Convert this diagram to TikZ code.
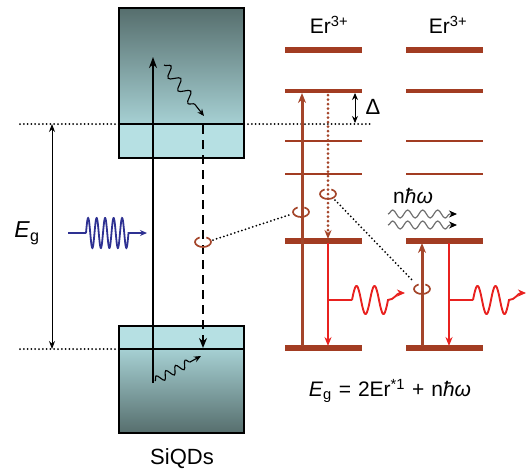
\documentclass[tikz,border=0pt]{standalone}
\usepackage{fontspec}
\setmainfont{Liberation Sans}
\usetikzlibrary{arrows.meta,decorations.pathmorphing,calc}
\definecolor{erbrown}{HTML}{A23C22}
\definecolor{erarrow}{HTML}{A4452A}
\definecolor{erred}{HTML}{E8211F}
\definecolor{boxdark}{HTML}{566E6D}
\definecolor{boxmid}{HTML}{A6D0D3}
\definecolor{boxlight}{HTML}{B6E0E3}
\definecolor{wblue}{HTML}{2E3192}
\definecolor{wgray}{HTML}{707070}
\begin{document}
\begin{tikzpicture}[x=1pt,y=-1pt,
  erlevel/.style={erbrown, line width=#1},
  smalltip/.style={-{Stealth[length=7pt,width=6pt]}},
  dotline/.style={line width=2pt, dash pattern=on 0pt off 3.8pt, line cap=round},
  loopmark/.style={erarrow, line width=1.7pt},
  lbl/.style={inner sep=0pt, font=\fontsize{21}{24}\selectfont}
]
\useasboundingbox (0,0) rectangle (528,472);
% ---- coordinates
\coordinate (dl1) at (20,124);
\coordinate (dr1) at (372,124);
\coordinate (dl2) at (20,349);
\coordinate (dr2) at (119,349);
% dotted reference lines
\draw[dotline] (dl1) -- (dr1);
\draw[dotline] (dl2) -- (dr2);
% ---- top box
\shade[top color=boxdark, bottom color=boxmid] (119,8) rectangle (244,124);
\fill[boxlight] (119,124) rectangle (244,158);
\draw[line width=2.2pt] (119,8) rectangle (244,158);
\draw[line width=2.2pt] (119,124) -- (244,124);
% ---- bottom box
\fill[boxlight] (119,326) rectangle (244,349);
\shade[top color=boxmid, bottom color=boxdark] (119,349) rectangle (244,433);
\draw[line width=2.2pt] (119,326) rectangle (244,433);
\draw[line width=2.2pt] (119,349) -- (244,349);
% ---- Eg arrow
\coordinate (eglo) at (52,349);
\coordinate (eghi) at (52,124);
\draw[line width=0.9pt, {Stealth[length=8pt,width=6pt]}-{Stealth[length=8pt,width=6pt]}] (eglo) -- (eghi);
\node[lbl, font=\fontsize{23}{26}\selectfont] (eg) at (27,233) {\textit{E}\textsubscript{g}};
% ---- excitation
\coordinate (vlo) at (153,383);
\coordinate (vhi) at (153,57);
\draw[line width=2.6pt, -{Stealth[length=11pt,width=8pt]}] (vlo) -- (vhi);
\coordinate (dsa) at (203,125);
\coordinate (dsb) at (203,348);
\draw[line width=2.4pt, dash pattern=on 9pt off 6pt, -{Stealth[length=10pt,width=8pt]}] (dsa) -- (dsb);
% relaxation wiggles
\coordinate (w1a) at (164,65);
\coordinate (w1b) at (204,116);
\draw[line width=1.1pt, decorate, decoration={snake, amplitude=5pt, segment length=16pt, post length=8pt}, smalltip] (w1a) -- (w1b);
\coordinate (w2a) at (155,381);
\coordinate (w2b) at (201,356);
\draw[line width=1.1pt, decorate, decoration={snake, amplitude=4pt, segment length=11pt, post length=8pt}, smalltip] (w2a) -- (w2b);
% blue photon
\draw[wblue, line width=1.8pt, -{Stealth[length=7pt,width=6pt]}]
  (68,233) -- (86,233)
  plot[domain=86:128.5, samples=160, smooth] (\x, {233-15*sin(360*(\x-86)/8.5)})
  -- (147,233);
% ---- Er levels
\foreach \xa/\xb in {285/362, 406/483}{
  \draw[erlevel=5.5pt] (\xa,50) -- (\xb,50);
  \draw[erlevel=4pt] (\xa,91) -- (\xb,91);
  \draw[erlevel=2.4pt] (\xa,141) -- (\xb,141);
  \draw[erlevel=2.4pt] (\xa,174) -- (\xb,174);
  \draw[erlevel=5.5pt] (\xa,241) -- (\xb,241);
  \draw[erlevel=5.5pt] (\xa,348) -- (\xb,348);
}
\node[lbl] (erL) at (329,25) {Er\textsuperscript{3+}};
\node[lbl] (erR) at (448,25) {Er\textsuperscript{3+}};
% left ion transitions
\coordinate (ua) at (302,346);
\coordinate (ub) at (302,93);
\draw[erarrow, line width=3pt, -{Stealth[length=10pt,width=8pt]}] (ua) -- (ub);
\coordinate (da) at (328,95);
\coordinate (db) at (328,239);
\draw[erarrow, line width=3pt, dash pattern=on 0pt off 4.5pt, line cap=round, -{Stealth[length=9pt,width=7pt]}] (da) -- (db);
\coordinate (ra) at (328,243);
\coordinate (rb) at (328,346);
\draw[erred, line width=2.6pt, -{Stealth[length=9pt,width=7pt]}] (ra) -- (rb);
\draw[erred, line width=1.9pt, -{Stealth[length=8pt,width=7pt]}]
  (328,300) -- (352,300)
  plot[domain=352:388, samples=120, smooth] (\x, {300-14*sin(360*(\x-352)/18)})
  .. controls (394,300) and (397,293) .. (405,293);
% right ion transitions
\coordinate (ua2) at (422,346);
\coordinate (ub2) at (422,243);
\draw[erarrow, line width=3pt, -{Stealth[length=10pt,width=8pt]}] (ua2) -- (ub2);
\coordinate (ra2) at (449,243);
\coordinate (rb2) at (449,346);
\draw[erred, line width=2.6pt, -{Stealth[length=9pt,width=7pt]}] (ra2) -- (rb2);
\draw[erred, line width=1.9pt, -{Stealth[length=8pt,width=7pt]}]
  (449,300) -- (473,300)
  plot[domain=473:509, samples=120, smooth] (\x, {300-14*sin(360*(\x-473)/18)})
  .. controls (515,300) and (518,293) .. (526,293);
% Delta
\coordinate (de1) at (355,93);
\coordinate (de2) at (355,123);
\draw[line width=0.9pt, {Stealth[length=7pt,width=6pt]}-{Stealth[length=7pt,width=6pt]}] (de1) -- (de2);
\node[lbl, font=\fontsize{22}{24}\selectfont] (delta) at (373,107) {Δ};
% phonons
\node[lbl] (phon) at (413,196) {n\textit{ħω}};
\coordinate (p1a) at (388,214);
\coordinate (p1b) at (457,214);
\coordinate (p2a) at (388,225);
\coordinate (p2b) at (457,225);
\draw[wgray, line width=1.2pt, decorate, decoration={snake, amplitude=4pt, segment length=15pt, post length=7pt}, -{Stealth[length=8pt,width=7pt,color=black]}] (p1a) -- (p1b);
\draw[wgray, line width=1.2pt, decorate, decoration={snake, amplitude=4pt, segment length=15pt, post length=7pt}, -{Stealth[length=8pt,width=7pt,color=black]}] (p2a) -- (p2b);
% loops
\coordinate (lp0) at (203,242);
\coordinate (lp1) at (301,212);
\coordinate (lp2) at (328,194);
\coordinate (lp3) at (422,289);
\foreach \c in {lp0,lp1,lp2,lp3}{
  \draw[loopmark] (\c) ++(115:8pt and 5pt) arc[start angle=115, end angle=425, x radius=8pt, y radius=5pt];
}
% energy transfer dotted lines
\draw[dotline] ($(lp0)+(10,-2)$) -- ($(lp1)+(-9,2)$);
\draw[dotline] ($(lp2)+(7,6)$) -- ($(lp3)+(-8,-7)$);
% labels
\node[lbl] (eq) at (390,391) {\textit{E}\textsubscript{g}\hspace{7pt}=\hspace{7pt}2Er\textsuperscript{*1}\hspace{7pt}+\hspace{7pt}n\textit{ħω}};
\node[lbl, font=\fontsize{22}{26}\selectfont] (siqd) at (182,459) {SiQDs};
\end{tikzpicture}
\end{document}
